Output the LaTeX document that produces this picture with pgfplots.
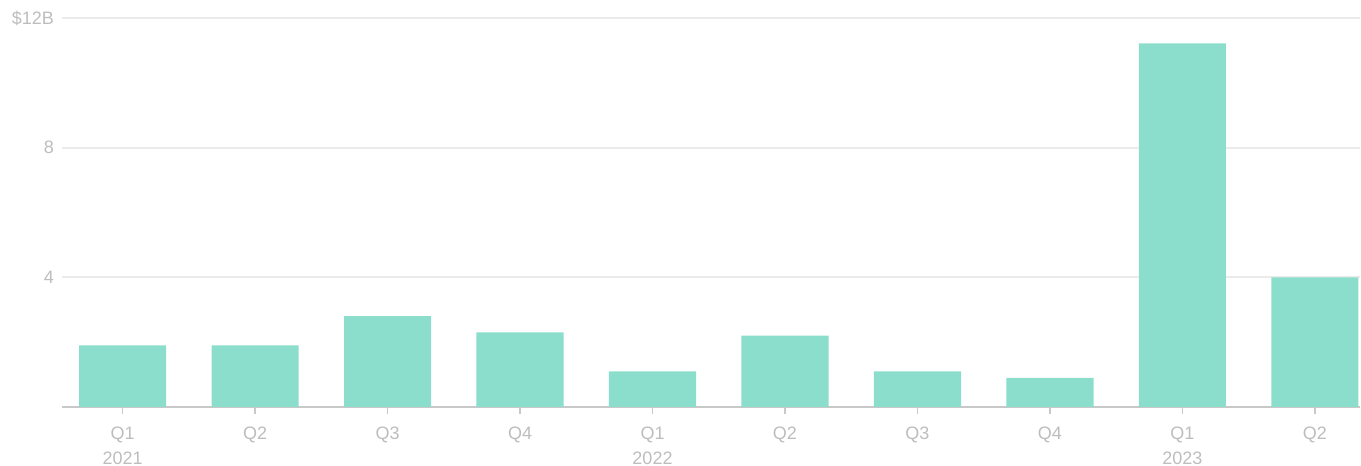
\documentclass[border=0pt]{standalone}
\usepackage{pgfplots}
\pgfplotsset{compat=1.18}
\usepackage{fontspec}
\setmainfont{Liberation Sans}
\definecolor{barc}{HTML}{8CDECC}
\definecolor{txt}{HTML}{BDBDBD}
\definecolor{gridc}{HTML}{EBEBEB}
\definecolor{axc}{HTML}{C8C8C8}
\begin{document}
\begin{tikzpicture}
\begin{axis}[
  at={(0,0)}, anchor=south west,
  scale only axis, width=649pt, height=194.5pt,
  xmin=-0.457, xmax=9.34, ymin=0, ymax=12,
  axis x line*=bottom, axis y line*=left,
  x axis line style={draw=axc, line width=0.8pt, -},
  y axis line style={draw=none},
  xtick={0,...,9},
  xticklabels={{Q1\\2021},Q2,Q3,Q4,{Q1\\2022},Q2,Q3,Q4,{Q1\\2023},Q2},
  xticklabel style={align=center, font=\fontsize{9pt}{12.5pt}\selectfont, text=txt, anchor=north, yshift=-3pt},
  tick align=outside, major tick length=3.5pt,
  x tick style={draw=axc, line width=0.8pt},
  ytick={4,8,12}, yticklabels={4,8,\$12B},
  ymajorgrids, grid style={draw=gridc, line width=0.9pt},
  y tick style={draw=none},
  yticklabel style={font=\fontsize{9pt}{11pt}\selectfont, text=txt, xshift=3pt},
  /pgf/number format/assume math mode=true,
  clip=false,
]
\addplot[ybar, bar width=0.657, fill=barc, draw=none] coordinates {
(0,1.9) (1,1.9) (2,2.8) (3,2.3) (4,1.1) (5,2.2) (6,1.1) (7,0.9) (8,11.22) (9,4.0)
};
\end{axis}
\pgfresetboundingbox
\useasboundingbox (-31pt,-29.5pt) rectangle (649.5pt,203.5pt);
\end{tikzpicture}
\end{document}
